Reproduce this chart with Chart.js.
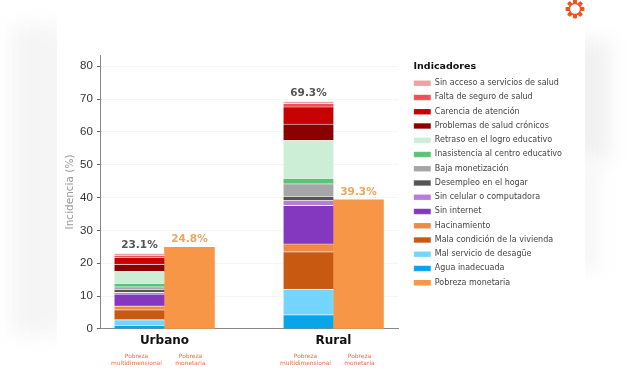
<!DOCTYPE html>
<html><head><meta charset="utf-8">
<script src="https://cdn.jsdelivr.net/npm/chart.js@4"></script>
<style>
html,body{margin:0;padding:0;background:#fff;width:640px;height:374px;overflow:hidden}
.shade{position:absolute;filter:blur(10px)}
#card{position:absolute;left:57px;top:0;width:528px;height:374px;background:#fff}
#wrap{position:absolute;left:0;top:0;width:640px;height:374px}
#logo{position:absolute;left:565px;top:-1px}
</style></head><body>
<div class="shade" style="left:12px;top:25px;width:60px;height:310px;background:#f6f5f5"></div>
<div class="shade" style="left:570px;top:40px;width:40px;height:120px;background:#f1f1f1"></div>
<div class="shade" style="left:570px;top:160px;width:28px;height:110px;background:#f6f6f6"></div>
<div id="card"></div>
<svg id="logo" width="20" height="20" viewBox="-10 -10 20 20"><g fill="#f4511e"><circle r="5.6" fill="none" stroke="#f4511e" stroke-width="1.5"/><rect id="p" x="-2" y="-9.4" width="4" height="4" rx="0.8"/><use href="#p" transform="rotate(45)"/><use href="#p" transform="rotate(90)"/><use href="#p" transform="rotate(135)"/><use href="#p" transform="rotate(180)"/><use href="#p" transform="rotate(225)"/><use href="#p" transform="rotate(270)"/><use href="#p" transform="rotate(315)"/></g></svg>
<div id="wrap"><canvas id="c" width="640" height="374"></canvas></div>
<script>
const areas = ['Urbano', 'Rural'];
const subLabels = [['Pobreza', 'multidimensional'], ['Pobreza', 'monetaria']];
const legendTitle = 'Indicadores';
const yTicks = [0, 10, 20, 30, 40, 50, 60, 70, 80];
const totalsMulti = [23.1, 69.3];
const totalsMon = [24.8, 39.3];

const names = ['Agua inadecuada','Mal servicio de desagüe','Mala condición de la vivienda','Hacinamiento','Sin internet','Sin celular o computadora','Desempleo en el hogar','Baja monetización','Inasistencia al centro educativo','Retraso en el logro educativo','Problemas de salud crónicos','Carencia de atención','Falta de seguro de salud','Sin acceso a servicios de salud'];
const colors = ['#0aa5e8','#74d6ff','#c75a10','#ee8a45','#8437bf','#b57ddc','#555555','#a6a6a6','#5cc277','#cdeed6','#8b0000','#c70000','#ee5058','#f2a0a6'];
const agua = [1.1, 4.3];
const desague = [1.7, 7.8];
const vivienda = [3.0, 11.4];
const hacinamiento = [1.2, 2.4];
const internet = [3.6, 11.7];
const celular = [0.5, 1.5];
const desempleo = [1.0, 1.3];
const monetizacion = [0.7, 3.8];
const inasistencia = [1.1, 1.7];
const retraso = [3.6, 11.5];
const cronicos = [2.2, 5.0];
const atencion = [2.1, 5.2];
const seguro = [0.6, 1.0];
const acceso = [0.6, 0.7];
const series = [agua, desague, vivienda, hacinamiento, internet, celular, desempleo, monetizacion, inasistencia, retraso, cronicos, atencion, seguro, acceso];
const monetaria = totalsMon;
const monName = 'Pobreza monetaria';
const monColor = '#f79646';

const datasets = series.map((vals, i) => ({
  label: names[i],
  data: vals.map((v, k) => ({x: k, y: v})),
  backgroundColor: colors[i],
  borderColor: 'rgba(255,255,255,0.75)',
  borderWidth: {top: 0.8},
  borderSkipped: false,
  stack: 'multi'
}));
datasets.push({label: monName, data: monetaria.map((v, k) => ({x: k, y: v})), backgroundColor: monColor, stack: 'mon'});

const overlay = {
  id: 'overlay',
  afterLayout(ch) {
    const l = ch.legend;
    l.left += 9; l.right += 9;
    if (!l.titleShifted) {
      l.titleShifted = true;
      const orig = l.drawTitle.bind(l);
      l.drawTitle = () => { l.left += 6; orig(); l.left -= 6; };
    }
  },
  afterDatasetsDraw(ch) {
    const {ctx, scales: {x, y}} = ch;
    ctx.save();
    ctx.textAlign = 'center';
    areas.forEach((a, k) => {
      const cx = x.getPixelForValue(k);
      ctx.textBaseline = 'middle';
      ctx.font = 'bold 10.5px "DejaVu Sans"';
      ctx.fillStyle = '#555';
      ctx.fillText(totalsMulti[k].toFixed(1) + '%', cx - 25, y.getPixelForValue(totalsMulti[k]) - 8);
      ctx.fillStyle = '#eda65e';
      ctx.fillText(totalsMon[k].toFixed(1) + '%', cx + 25, y.getPixelForValue(totalsMon[k]) - 8);
      ctx.font = '5.9px "DejaVu Sans"';
      ctx.fillStyle = '#f26b4a';
      subLabels.forEach((lines, j) => {
        const sx = cx + (j === 0 ? -28 : 26);
        lines.forEach((t, l) => ctx.fillText(t, sx, 356 + l * 7.5));
      });
    });
    ctx.restore();
  }
};

new Chart(document.getElementById('c'), {
  type: 'bar',
  data: {datasets},
  plugins: [overlay],
  options: {
    responsive: false,
    animation: false,
    layout: {padding: {left: 63.5, top: 55, right: 77, bottom: 20.7}},
    plugins: {
      tooltip: {enabled: false},
      legend: {
        position: 'right',
        align: 'start',
        maxWidth: 214,
        title: {display: true, text: legendTitle, color: '#111', font: {family: '"DejaVu Sans"', size: 9.5, weight: 'bold'}, position: 'start', padding: {top: 6.5, bottom: 0}},
        labels: {
          boxWidth: 17, boxHeight: 5.5, padding: 6.25, color: '#444',
          font: {family: '"DejaVu Sans"', size: 8},
          sort: (a, b) => {
            const rank = l => l.datasetIndex === series.length ? 99 : series.length - l.datasetIndex;
            return rank(a) - rank(b);
          }
        }
      }
    },
    scales: {
      x: {
        type: 'linear', min: -0.376, max: 1.385, stacked: true, offset: false,
        grid: {display: false, drawTicks: false, offset: false},
        border: {color: '#888', width: 1},
        afterBuildTicks: s => { s.ticks = areas.map((_, i) => ({value: i})); },
        ticks: {
          autoSkip: false, maxRotation: 0, padding: 5,
          color: '#111', font: {family: '"DejaVu Sans"', size: 12, weight: 'bold'},
          callback: v => areas[v]
        }
      },
      y: {
        stacked: true, min: 0, max: 83.4,
        afterBuildTicks: s => { s.ticks = yTicks.map(v => ({value: v})); },
        grid: {color: '#f5f5f5', lineWidth: 1, drawTicks: true, tickLength: 4, tickColor: '#666'},
        border: {color: '#888', width: 1},
        ticks: {color: '#333', padding: 4, font: {family: '"Liberation Sans"', size: 11.5}},
        title: {display: true, text: 'Incidencia (%)', color: '#999', font: {family: '"DejaVu Sans"', size: 10.5}, padding: {top: 0, bottom: 0}}
      }
    },
    datasets: {bar: {barThickness: 50}}
  }
});
</script>
</body></html>
